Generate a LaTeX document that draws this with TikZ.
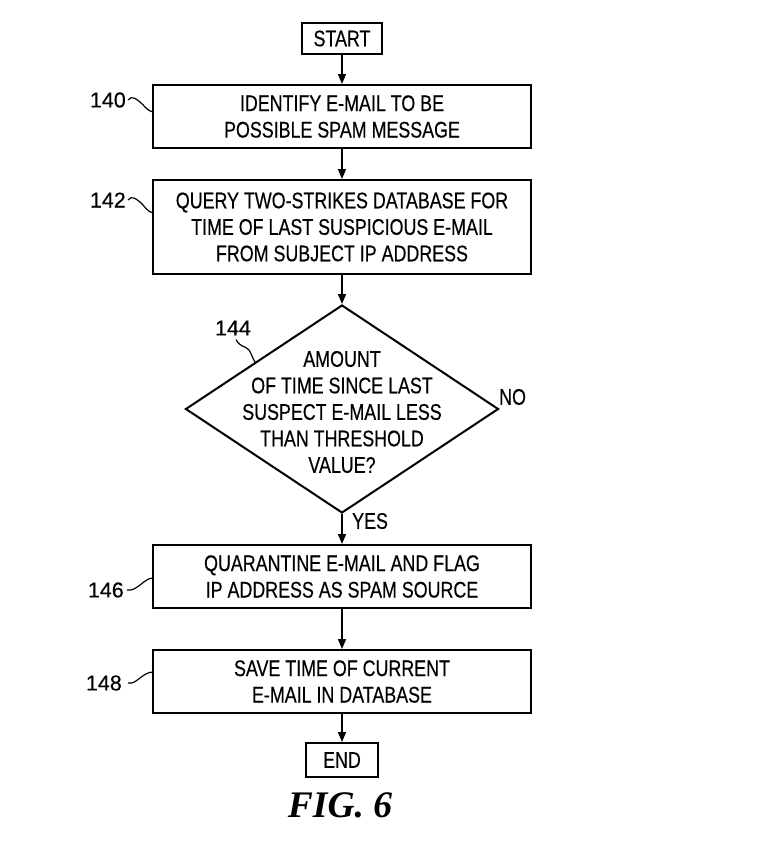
\documentclass[tikz,border=0pt]{standalone}
\usepackage{fontspec}
\setmainfont{Liberation Sans}[FakeBold=0.3]
\newfontfamily\flowfont{Liberation Sans}[FakeStretch=0.79,FakeBold=0.4]
\newfontfamily\figfont{Liberation Serif}
\usetikzlibrary{shapes.geometric,arrows.meta}
\begin{document}
\begin{tikzpicture}[x=1pt,y=-1pt,
  box/.style={draw, line width=2pt, minimum width=378pt, inner sep=0pt, align=center, font=\flowfont\fontsize{22.6}{26.5}\selectfont},
  term/.style={draw, line width=2pt, inner sep=0pt, font=\flowfont\fontsize{22.6}{26.5}\selectfont},
  dec/.style={draw, diamond, line width=2pt, inner sep=0pt, minimum width=313pt, minimum height=208pt},
  txt/.style={align=center, inner sep=0pt, font=\flowfont\fontsize{22.6}{26.5}\selectfont},
  lbl/.style={inner sep=0pt, font=\fontsize{21.5}{25}\selectfont},
  flow/.style={line width=1.6pt, -{Triangle[length=10pt,width=8pt]}},
  sq/.style={line width=1.2pt},
]
\useasboundingbox (0,0) rectangle (768,841);
% nodes
\node[term, minimum width=80pt, minimum height=31pt] (start) at (342,38.5) {START};
\node[box, minimum height=63pt] (b140) at (342,116.5) {IDENTIFY E-MAIL TO BE\\POSSIBLE SPAM MESSAGE};
\node[box, minimum height=94pt] (b142) at (342,227) {QUERY TWO-STRIKES DATABASE FOR\\TIME OF LAST SUSPICIOUS E-MAIL\\FROM SUBJECT IP ADDRESS};
\node[dec] (d144) at (342,409) {};
\node[txt] (t144) at (342,412) {AMOUNT\\OF TIME SINCE LAST\\SUSPECT E-MAIL LESS\\THAN THRESHOLD\\VALUE?};
\node[box, minimum height=63pt] (b146) at (342,576.5) {QUARANTINE E-MAIL AND FLAG\\IP ADDRESS AS SPAM SOURCE};
\node[box, minimum height=63pt] (b148) at (342,681.5) {SAVE TIME OF CURRENT\\E-MAIL IN DATABASE};
\node[term, minimum width=72pt, minimum height=34pt] (end) at (342,760) {END};
% labels
\node[lbl, anchor=east] (l140) at (126,100) {140};
\node[lbl, anchor=east] (l142) at (126,200) {142};
\node[lbl] (l144) at (233,328) {144};
\node[lbl, anchor=east] (l146) at (124,590) {146};
\node[lbl, anchor=east] (l148) at (122,683) {148};
\node[txt, anchor=west] (no) at (499,397) {NO};
\node[txt, anchor=west] (yes) at (352,521) {YES};
\node[font=\figfont\bfseries\itshape\fontsize{37.5}{40}\selectfont, inner sep=0pt] (fig) at (340,805) {FIG. 6};
% squiggle end points
\coordinate (e140) at (153,112);
\coordinate (e142) at (153,213);
\coordinate (e144) at (255,362);
\coordinate (e146) at (153,578);
\coordinate (e148) at (153,672);
% connectors
\draw[flow] (start) -- (b140);
\draw[flow] (b140) -- (b142);
\draw[flow] (b142) -- (d144.north);
\draw[flow] (d144.south) -- (b146);
\draw[flow] (b146) -- (b148);
\draw[flow] (b148) -- (end);
% squiggles
\draw[sq] ([xshift=2pt]l140.east) .. controls +(4,-5) and +(-4,-3) .. ++(12,2) .. controls +(4,3) and +(-6,-1) .. (e140);
\draw[sq] ([xshift=2pt]l142.east) .. controls +(4,-5) and +(-4,-3) .. ++(12,2) .. controls +(4,3) and +(-6,-1) .. (e142);
\draw[sq] ([xshift=3pt,yshift=-4pt]l144.south) .. controls +(2,4) and +(-5,-2) .. ++(10,8) .. controls +(5,2) and +(-3,-4) .. (e144);
\draw[sq] ([xshift=3pt]l146.east) .. controls +(5,1) and +(-4,3) .. ++(13,-5) .. controls +(4,-3) and +(-5,0) .. (e146);
\draw[sq] ([xshift=6pt]l148.east) .. controls +(5,1) and +(-4,3) .. ++(12,-5) .. controls +(4,-3) and +(-5,0) .. (e148);
\end{tikzpicture}
\end{document}
